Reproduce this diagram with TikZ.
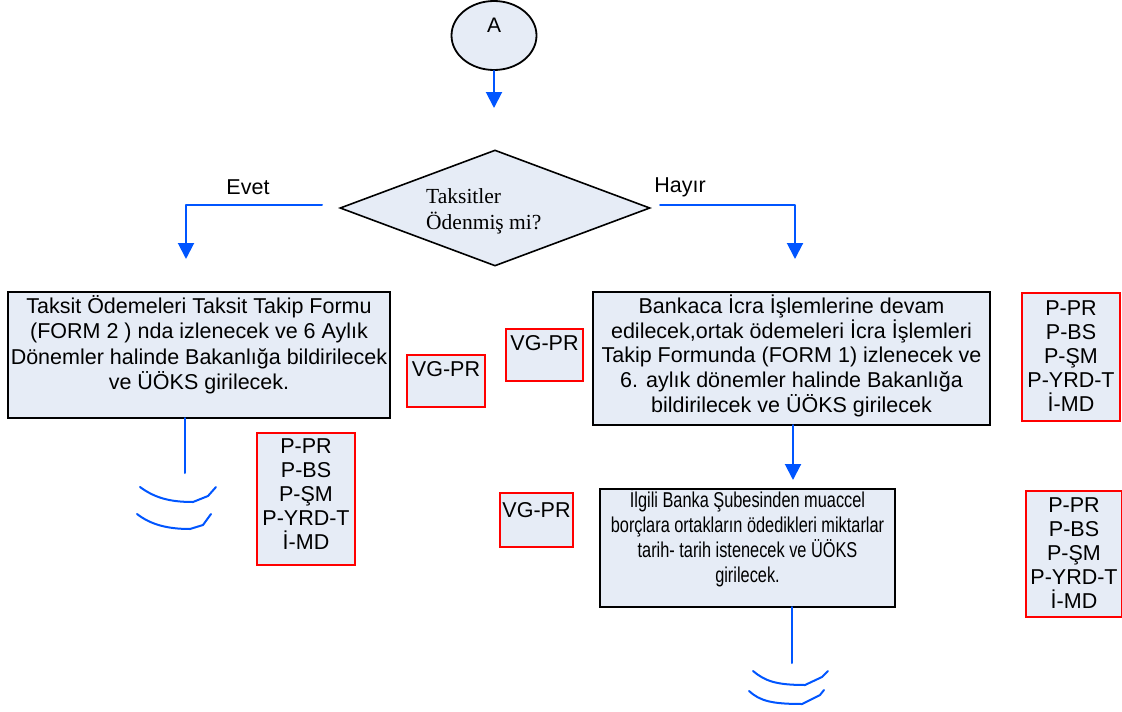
\documentclass[tikz,border=0pt]{standalone}
\usepackage{fontspec}
\usepackage{graphicx}
\setmainfont{Liberation Sans}
\newfontfamily\serifx{Liberation Serif}
\usetikzlibrary{shapes.geometric,arrows.meta}
\definecolor{boxfill}{RGB}{230,236,246}
\definecolor{connblue}{RGB}{0,85,255}
\definecolor{tagred}{RGB}{255,0,0}
\newcommand\fst{\rule{0pt}{22pt}}
\tikzset{
  procbox/.style={draw=black, line width=2pt, fill=boxfill, inner sep=0pt, outer sep=0pt},
  tagbox/.style={draw=tagred, line width=2pt, fill=boxfill, inner sep=0pt, outer sep=0pt},
  txt/.style={inner sep=0pt, align=center, anchor=north, font=\fontsize{21.5}{25.5}\selectfont},
  tagtxt/.style={inner sep=0pt, align=center, anchor=north, font=\fontsize{21.5}{24}\selectfont},
  conn/.style={draw=connblue, line width=2pt, line cap=round, line join=round},
  arr/.style={conn, -{Triangle[width=16pt,length=16pt]}},
}
\begin{document}
\begin{tikzpicture}[x=1pt,y=-1pt]
\useasboundingbox (0,0) rectangle (1122,712);
% start ellipse
\node[ellipse, draw=black, line width=1.8pt, fill=boxfill, minimum width=85pt, minimum height=69pt, inner sep=0pt] (A) at (494,35.5) {};
\node[inner sep=0pt, font=\fontsize{21}{24}\selectfont] (Atxt) at (494,25) {A};
\coordinate (a1) at (494,108);
\draw[arr] (A.south) -- (a1);
% decision
\node[diamond, draw=black, line width=1.6pt, fill=boxfill, minimum width=310pt, minimum height=116pt, aspect=2.67, inner sep=0pt] (D) at (495,208) {};
\node[inner sep=0pt, anchor=north west, align=left, font=\serifx\fontsize{21.5}{26.5}\selectfont] (Dtxt) at (426,181) {\fst Taksitler\\Ödenmiş mi?};
% yes / no branches
\coordinate (ev0) at (322,205);
\coordinate (ev1) at (186,205);
\coordinate (ev2) at (186,259);
\draw[arr] (ev0) -- (ev1) -- (ev2);
\node[inner sep=0pt, font=\fontsize{21.5}{24}\selectfont] (evet) at (248,187) {Evet};
\coordinate (hy0) at (660,205);
\coordinate (hy1) at (795,205);
\coordinate (hy2) at (795,259);
\draw[arr] (hy0) -- (hy1) -- (hy2);
\node[inner sep=0pt, font=\fontsize{21.5}{24}\selectfont] (hayir) at (680,187) {Hayır};
% left process box
\node[procbox, minimum width=382pt, minimum height=126pt] (L) at (199,355) {};
\node[txt] (Ltxt) at (199,291) {\fst Taksit Ödemeleri Taksit Takip Formu\\(FORM 2 ) nda izlenecek ve 6 Aylık\\Dönemler halinde Bakanlığa bildirilecek\\ve ÜÖKS girilecek.};
% left tags
\node[tagbox, minimum width=78pt, minimum height=52pt] (vg1) at (446,381) {};
\node[tagtxt] (vg1t) at (446,354) {\fst VG-PR};
\node[tagbox, minimum width=98pt, minimum height=132pt] (pl) at (306,499) {};
\node[tagtxt] (plt) at (306,431) {\fst P-PR\\P-BS\\P-ŞM\\P-YRD-T\\İ-MD};
% left continuation
\coordinate (l1) at (185,418);
\coordinate (l2) at (185,473);
\draw[conn] (l1) -- (l2);
\draw[conn] (140,487) .. controls (155,498) and (170,502) .. (193,502) -- (208,496) -- (216,487);
\draw[conn] (137,514) .. controls (150,524) and (166,529) .. (190,529) -- (203,525) -- (211,514);
% right process box 1
\node[procbox, minimum width=397pt, minimum height=133pt] (R1) at (791.5,358.5) {};
\node[txt, font=\fontsize{21.5}{24.8}\selectfont] (R1txt) at (791.5,291) {\fst Bankaca İcra İşlemlerine devam\\edilecek,ortak ödemeleri İcra İşlemleri\\Takip Formunda (FORM 1) izlenecek ve\\6. aylık dönemler halinde Bakanlığa\\bildirilecek ve ÜÖKS girilecek};
\node[tagbox, minimum width=77pt, minimum height=52pt] (vg2) at (544.5,355) {};
\node[tagtxt] (vg2t) at (544.5,328) {\fst VG-PR};
\node[tagbox, minimum width=98pt, minimum height=128pt] (pr1) at (1071,357) {};
\node[tagtxt] (pr1t) at (1071,293) {\fst P-PR\\P-BS\\P-ŞM\\P-YRD-T\\İ-MD};
% arrow to box 2
\coordinate (m1) at (793,425);
\coordinate (m2) at (793,480);
\draw[arr] (m1) -- (m2);
% right process box 2
\node[procbox, minimum width=295pt, minimum height=118pt] (R2) at (747.5,548) {};
\node[inner sep=0pt, anchor=north, font=\fontsize{21.5}{25}\selectfont] (R2txt) at (747.5,485) {\scalebox{0.76}[1]{\begin{tabular}[t]{@{}c@{}}\fst İlgili Banka Şubesinden muaccel\\borçlara ortakların ödedikleri miktarlar\\tarih- tarih istenecek ve ÜÖKS\\girilecek.\end{tabular}}};
\node[tagbox, minimum width=73pt, minimum height=54pt] (vg3) at (536.5,520) {};
\node[tagtxt] (vg3t) at (536.5,495) {\fst VG-PR};
\node[tagbox, minimum width=96pt, minimum height=126pt] (pr2) at (1074,554) {};
\node[tagtxt] (pr2t) at (1074,490) {\fst P-PR\\P-BS\\P-ŞM\\P-YRD-T\\İ-MD};
% right continuation
\coordinate (r1) at (792,607);
\coordinate (r2) at (792,663);
\draw[conn] (r1) -- (r2);
\draw[conn] (753,671) .. controls (765,681) and (776,685) .. (805,685) -- (822,677) -- (828,671);
\draw[conn] (749,691) .. controls (760,701) and (772,704) .. (802,704) -- (820,695) -- (824,690);
\end{tikzpicture}
\end{document}
